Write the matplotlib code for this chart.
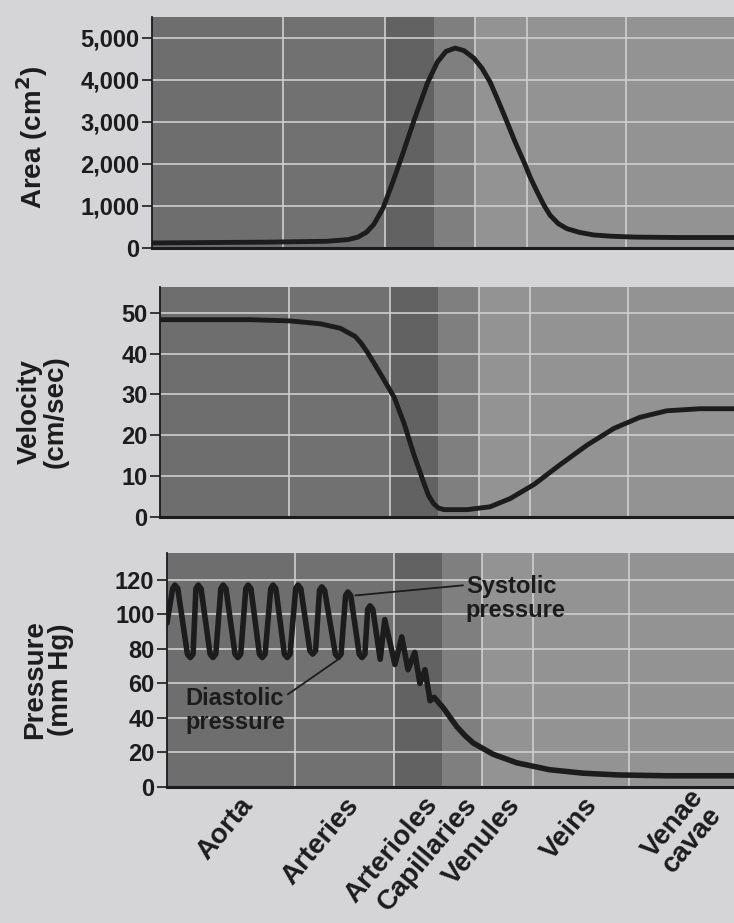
import matplotlib

matplotlib.use("Agg")

import matplotlib.pyplot as plt  # noqa: E402
from matplotlib.ticker import StrMethodFormatter  # noqa: E402

# Position along the vascular tree (arbitrary units, 0 = aorta, 100 = venae cavae)
area_x = [0, 10, 20, 30, 33.7, 35.4, 36.9, 38.1, 39.7, 41.4, 43.1, 45.0, 47.3,
          49.0, 50.5, 52.1, 53.6, 55.3, 56.7, 58.1, 59.5, 61.0, 62.4, 63.9,
          65.0, 66.2, 67.3, 68.4, 69.8, 71.3, 73.5, 75.9, 79.0, 82.8, 90, 100]
area_cm2 = [120, 130, 140, 160, 200, 260, 380, 560, 950, 1580, 2250, 3030, 3920,
            4420, 4680, 4760, 4700, 4520, 4280, 3950, 3500, 3000, 2520, 2050,
            1680, 1330, 1030, 780, 580, 460, 370, 310, 280, 260, 250, 250]

vel_x = [0, 7.0, 15.7, 22.6, 27.9, 31.4, 34.0, 35.0, 36.1, 38.3, 40.8, 42.5,
         44.3, 46.0, 46.8, 47.7, 48.5, 49.5, 53.5, 57.5, 61.0, 65.2, 69.7,
         74.4, 79.1, 83.6, 88.3, 94.1, 100]
vel_cm_s = [48.3, 48.3, 48.3, 48.0, 47.3, 46.2, 44.2, 42.6, 40.4, 35.3, 29.3,
            23.0, 15.0, 8.2, 5.2, 3.2, 2.2, 1.8, 1.8, 2.5, 4.5, 8.0, 12.8,
            17.6, 21.7, 24.4, 26.0, 26.5, 26.5]

press_x = [0.0,
           1.0, 1.4, 1.9, 3.6, 4.1, 4.6,
           5.1, 5.5, 6.0, 7.6, 8.1, 8.6,
           9.5, 9.9, 10.4, 12.0, 12.5, 13.0,
           13.9, 14.3, 14.8, 16.3, 16.8, 17.3,
           18.3, 18.7, 19.2, 20.7, 21.2, 21.7,
           22.7, 23.1, 23.6, 25.2, 25.7, 26.2,
           26.9, 27.3, 27.8, 29.7, 30.2, 30.7,
           31.5, 31.9, 32.4, 33.9, 34.4, 34.9,
           35.4, 35.8, 36.3,
           37.6, 38.4, 40.2, 41.4, 42.5, 43.7, 44.6, 45.5, 46.4, 47.1,
           48.7, 51.1, 52.5, 54.0, 57.5, 61.7, 67.5, 73.4, 79.4, 88.2, 100]
press_mmhg = [95,
              115, 117, 115, 77, 75, 77,
              115, 117, 115, 77, 75, 77,
              115, 117, 115, 77, 75, 77,
              115, 117, 115, 77, 75, 77,
              115, 117, 115, 77, 75, 77,
              115, 117, 115, 79, 77, 79,
              114, 116, 114, 77, 75, 77,
              111, 113, 111, 77, 75, 77,
              103, 105, 103,
              74, 97, 71, 87, 68, 78, 60, 68, 50, 52,
              46, 35, 30, 25.5, 19, 14, 10, 8, 7, 6.5, 6.5]

vessels = ["Aorta", "Arteries", "Arterioles", "Capillaries", "Venules", "Veins",
           "Venae\ncavae"]
vessel_pos = [14.3, 33.0, 46.9, 54.0, 61.6, 75.1, 95.5]

# shaded bands behind the curves and the white grid
band_edges = [0, 22.5, 40, 48.5, 55.5, 100]
band_colors = ["#6e6e6e", "#717171", "#626262", "#7f7f7f", "#939393"]
grid_x = [22.5, 40, 55.5, 64.5, 81.5]

PAGE = "#d5d4d6"
INK = "#1c1c1c"

fig = plt.figure(figsize=(7.34, 9.23), dpi=100, facecolor=PAGE)
W, H = 734, 923


def px_axes(left, top, bottom, right=734):
    return fig.add_axes([left / W, 1 - bottom / H, (right - left) / W, (bottom - top) / H])


def style_panel(ax, ymax, yticks, fmt=None):
    ax.set_xlim(0, 100)
    ax.set_ylim(0, ymax)
    for lo, hi, c in zip(band_edges[:-1], band_edges[1:], band_colors):
        ax.axvspan(lo, hi, color=c, lw=0, zorder=0)
    for gx in grid_x:
        ax.axvline(gx, color="#cfcfcf", lw=1.2, zorder=1)
    for gy in yticks[1:]:
        ax.axhline(gy, color="#cfcfcf", lw=1.2, zorder=1)
    ax.set_yticks(yticks)
    if fmt:
        ax.yaxis.set_major_formatter(StrMethodFormatter(fmt))
    ax.tick_params(axis="y", direction="out", length=7, width=1.2, pad=2,
                   labelsize=17, colors=INK)
    for lab in ax.get_yticklabels():
        lab.set_fontweight("bold")
    ax.set_xticks([])
    for side in ("top", "right"):
        ax.spines[side].set_visible(False)
    ax.spines["left"].set_color(INK)
    ax.spines["left"].set_linewidth(1.3)
    ax.spines["bottom"].set_color(INK)
    ax.spines["bottom"].set_linewidth(2.2)


plt.rcParams["font.family"] = ["Liberation Sans", "DejaVu Sans"]

# Area
ax1 = px_axes(152, 17, 248)
style_panel(ax1, 5500, [0, 1000, 2000, 3000, 4000, 5000], "{x:,.0f}")
ax1.plot(area_x, area_cm2, color=INK, lw=3.5, solid_joinstyle="round",
         solid_capstyle="round", zorder=3)

# Velocity
ax2 = px_axes(160, 287, 517)
style_panel(ax2, 56.3, [0, 10, 20, 30, 40, 50])
ax2.plot(vel_x, vel_cm_s, color=INK, lw=3.5, solid_joinstyle="round",
         solid_capstyle="round", zorder=3)

# Pressure
ax3 = px_axes(167, 553, 787)
style_panel(ax3, 135.6, [0, 20, 40, 60, 80, 100, 120])
ax3.plot(press_x, press_mmhg, color=INK, lw=4.0, solid_joinstyle="round",
         solid_capstyle="round", zorder=3)

ax3.set_xticks(vessel_pos)
ax3.set_xticklabels(vessels, rotation=50, ha="right", va="center",
                    rotation_mode="anchor", fontsize=20, fontweight="bold",
                    color=INK, multialignment="center", linespacing=0.95)
ax3.tick_params(axis="x", length=0, pad=10)

ax3.annotate("Systolic\npressure", xy=(33.2, 111), xytext=(52.7, 123),
             ha="left", va="top", fontsize=17, fontweight="bold", color=INK,
             linespacing=1.05,
             arrowprops=dict(arrowstyle="-", color=INK, lw=1.3,
                             shrinkA=0, shrinkB=0, relpos=(0, 0.78)))
ax3.annotate("Diastolic\npressure", xy=(30.0, 73.5), xytext=(3.2, 58),
             ha="left", va="top", fontsize=17, fontweight="bold", color=INK,
             linespacing=1.05,
             arrowprops=dict(arrowstyle="-", color=INK, lw=1.3,
                             shrinkA=0, shrinkB=0, relpos=(1.0, 0.8)))

# y axis titles
fig.text(32 / W, 1 - 137 / H, "Area (cm$^\\mathbf{2}$)", rotation=90, ha="center",
         va="center", fontsize=20, fontweight="bold", color=INK)
fig.text(43 / W, 1 - 412 / H, "Velocity\n(cm/sec)", rotation=90, ha="center",
         va="center", fontsize=20, fontweight="bold", color=INK,
         multialignment="center", linespacing=1.0)
fig.text(48 / W, 1 - 680 / H, "Pressure\n(mm Hg)", rotation=90, ha="center",
         va="center", fontsize=20, fontweight="bold", color=INK,
         multialignment="center", linespacing=1.0)

fig.savefig("out.png", dpi=100, facecolor=PAGE)
